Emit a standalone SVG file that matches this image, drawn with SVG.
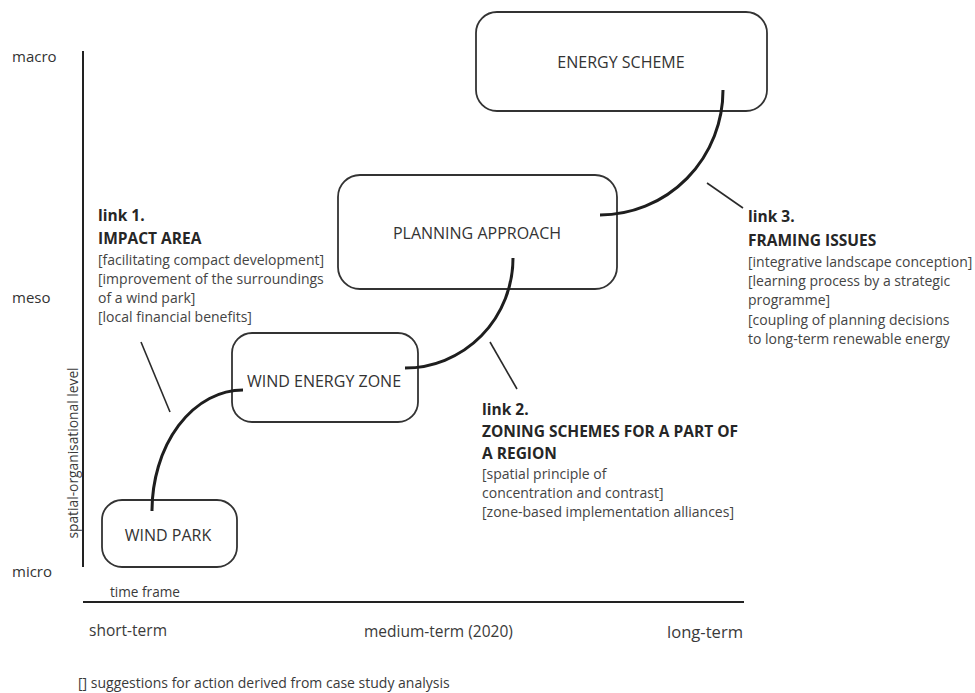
<svg xmlns="http://www.w3.org/2000/svg" width="975" height="693" viewBox="0 0 975 693">
<style>
text{font-family:"Open Sans","Noto Sans","DejaVu Sans",sans-serif;fill:#3a3a3a}
.node rect{fill:#fff;stroke:#333;stroke-width:1.8}
.nl{font-size:16px;text-anchor:middle;fill:#333}
.ax{font-size:15px;fill:#333}
.b{font-size:15.5px;font-weight:bold;fill:#262626}
.t{font-size:14px;fill:#444}
.conn path{fill:none;stroke:#1e1e1e;stroke-width:3}
.ptr line{stroke:#2a2a2a;stroke-width:1.6}
.axis line{stroke:#222;stroke-width:2}
</style>
<rect width="975" height="693" fill="#fff"/>
<g id="axes" class="axis">
<line x1="83" y1="51" x2="83" y2="567"/>
<line x1="83" y1="602" x2="744" y2="602"/>
</g>
<g id="axis-labels">
<text class="ax" x="12" y="62">macro</text>
<text class="ax" x="12" y="303">meso</text>
<text class="ax" x="12" y="577">micro</text>
<text x="78" y="453" font-size="13.8" text-anchor="middle" transform="rotate(-90 78 453)" fill="#444">spatial-organisational level</text>
<text x="110" y="597" font-size="13.6" fill="#444">time frame</text>
<text x="89" y="636" font-size="15.5" fill="#333">short-term</text>
<text x="364" y="637" font-size="15.5" fill="#333">medium-term (2020)</text>
<text x="667" y="638" font-size="16.6" fill="#333">long-term</text>
<text x="78" y="688" font-size="14" fill="#444">[] suggestions for action derived from case study analysis</text>
</g>
<g id="energy-scheme" class="node">
<rect x="476" y="12" width="291" height="99" rx="21"/>
<text class="nl" x="621" y="68" font-size="16.3">ENERGY SCHEME</text>
</g>
<g id="planning-approach" class="node">
<rect x="338" y="175" width="279" height="114" rx="22"/>
<text class="nl" x="477" y="239" font-size="17">PLANNING APPROACH</text>
</g>
<g id="wind-energy-zone" class="node">
<rect x="232" y="333" width="186" height="89" rx="20"/>
<text class="nl" x="324" y="387" font-size="15.8">WIND ENERGY ZONE</text>
</g>
<g id="wind-park" class="node">
<rect x="102" y="500" width="135" height="67" rx="20"/>
<text class="nl" x="168" y="541" font-size="17">WIND PARK</text>
</g>
<g id="connectors">
<g class="conn">
<path d="M723,90 A123,125 0 0 1 600,215"/>
<path d="M513,258 A108,110 0 0 1 405,368"/>
<path d="M243,390 A91,121 0 0 0 152,511"/>
</g>
<g class="ptr">
<line x1="707" y1="183" x2="743" y2="208"/>
<line x1="490" y1="342" x2="517" y2="389"/>
<line x1="141" y1="342" x2="170" y2="412"/>
</g>
</g>
<g id="link1">
<text class="b" x="98" y="221">link 1.</text>
<text class="b" x="98" y="244">IMPACT AREA</text>
<text class="t" x="98" y="265">[facilitating compact development]</text>
<text class="t" x="98" y="284">[improvement of the surroundings</text>
<text class="t" x="98" y="303">of a wind park]</text>
<text class="t" x="98" y="322">[local financial benefits]</text>
</g>
<g id="link2">
<text class="b" x="482" y="415">link 2.</text>
<text class="b" x="482" y="437">ZONING SCHEMES FOR A PART OF</text>
<text class="b" x="482" y="459">A REGION</text>
<text class="t" x="482" y="479">[spatial principle of</text>
<text class="t" x="482" y="498">concentration and contrast]</text>
<text class="t" x="482" y="517">[zone-based implementation alliances]</text>
</g>
<g id="link3">
<text class="b" x="748" y="222">link 3.</text>
<text class="b" x="748" y="246">FRAMING ISSUES</text>
<text class="t" x="748" y="267">[integrative landscape conception]</text>
<text class="t" x="748" y="286">[learning process by a strategic</text>
<text class="t" x="748" y="305">programme]</text>
<text class="t" x="748" y="325">[coupling of planning decisions</text>
<text class="t" x="748" y="344">to long-term renewable energy</text>
</g>
</svg>
